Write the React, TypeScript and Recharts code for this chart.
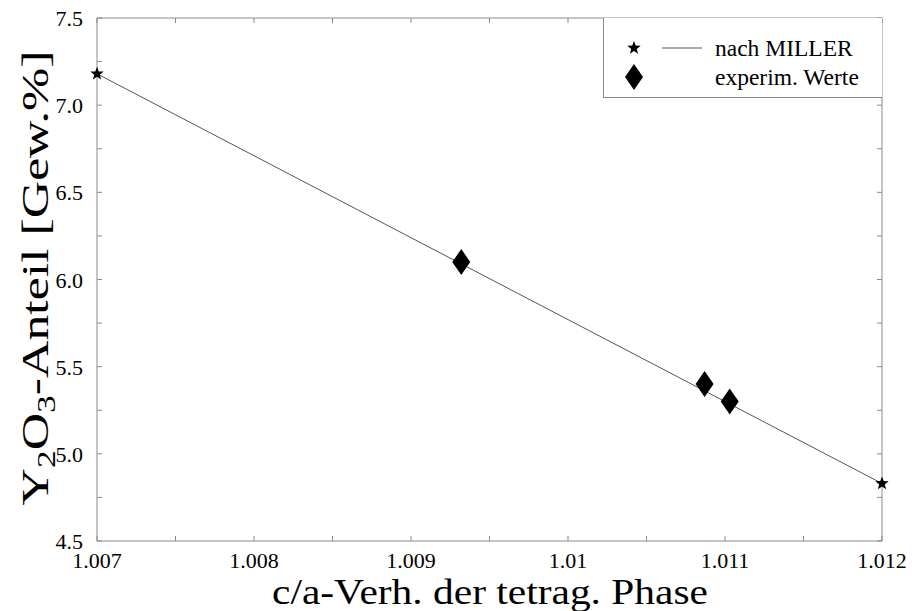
import React from 'react';
import { ScatterChart, Scatter, XAxis, YAxis } from 'recharts';

// Y2O3 content vs. c/a ratio of the tetragonal phase

const millerX = [1.007, 1.012];
const millerY = [7.18, 4.83];

const experimX = [1.00932, 1.01087, 1.01103];
const experimY = [6.1, 5.4, 5.3];

const xTicks = [1.007, 1.0075, 1.008, 1.0085, 1.009, 1.0095, 1.01, 1.0105, 1.011, 1.0115, 1.012];
const xTickLabels = ['1.007', '', '1.008', '', '1.009', '', '1.01', '', '1.011', '', '1.012'];
const yTicks = [4.5, 4.75, 5.0, 5.25, 5.5, 5.75, 6.0, 6.25, 6.5, 6.75, 7.0, 7.25, 7.5];
const yTickLabels = ['4.5', '', '5.0', '', '5.5', '', '6.0', '', '6.5', '', '7.0', '', '7.5'];

const legendLabels = ['nach MILLER', 'experim. Werte'];

const miller = millerX.map((x, i) => ({ x, y: millerY[i] }));
const experim = experimX.map((x, i) => ({ x, y: experimY[i] }));

const FONT = '"Liberation Serif", "Times New Roman", serif';
const AXIS = '#8a8a8a';
const TICK_LEN = 5;

const labelFor = (value: number, ticks: number[], labels: string[]) => {
  const i = ticks.findIndex((t) => Math.abs(t - value) < 1e-7);
  return i >= 0 ? labels[i] : '';
};

const starPoints = (cx: number, cy: number, r: number) => {
  const pts: string[] = [];
  for (let i = 0; i < 10; i++) {
    const rad = i % 2 === 0 ? r : r * 0.42;
    const a = -Math.PI / 2 + (i * Math.PI) / 5;
    pts.push(`${cx + rad * Math.cos(a)},${cy + rad * Math.sin(a)}`);
  }
  return pts.join(' ');
};

const Star = (props: any) => <polygon points={starPoints(props.cx, props.cy, 7)} fill="#000" />;

const Diamond = (props: any) => {
  const { cx, cy } = props;
  return (
    <polygon
      points={`${cx},${cy - 13} ${cx + 9},${cy} ${cx},${cy + 13} ${cx - 9},${cy}`}
      fill="#000"
    />
  );
};

const BottomTick = (props: any) => {
  const { x, y, payload } = props;
  return (
    <g>
      <line x1={x} y1={y} x2={x} y2={y - TICK_LEN} stroke={AXIS} />
      <text x={x} y={y + 27} textAnchor="middle" fontFamily={FONT} fontSize={22} fill="#000">
        {labelFor(payload.value, xTicks, xTickLabels)}
      </text>
    </g>
  );
};

const TopTick = (props: any) => {
  const { x, y } = props;
  return <line x1={x} y1={y} x2={x} y2={y + TICK_LEN} stroke={AXIS} />;
};

const LeftTick = (props: any) => {
  const { x, y, payload } = props;
  return (
    <g>
      <line x1={x} y1={y} x2={x + TICK_LEN} y2={y} stroke={AXIS} />
      <text x={x - 14} y={y + 8} textAnchor="end" fontFamily={FONT} fontSize={22} fill="#000">
        {labelFor(payload.value, yTicks, yTickLabels)}
      </text>
    </g>
  );
};

const RightTick = (props: any) => {
  const { x, y } = props;
  return <line x1={x} y1={y} x2={x - TICK_LEN} y2={y} stroke={AXIS} />;
};

const XTitle = () => (
  <text
    x={490}
    y={604}
    textAnchor="middle"
    fontFamily={FONT}
    fontSize={35}
    fill="#000"
    textLength={436}
    lengthAdjust="spacingAndGlyphs"
  >
    c/a-Verh. der tetrag. Phase
  </text>
);

const YTitle = () => (
  <text
    x={48}
    y={278}
    transform="rotate(-90 48 278)"
    textAnchor="middle"
    fontFamily={FONT}
    fontSize={38}
    fill="#000"
    textLength={455}
    lengthAdjust="spacingAndGlyphs"
  >
    Y<tspan fontSize={26} dy={7}>2</tspan>
    <tspan dy={-7}>O</tspan>
    <tspan fontSize={26} dy={7}>3</tspan>
    <tspan dy={-7}>-Anteil [Gew.%]</tspan>
  </text>
);

export default function App() {
  return (
    <div style={{ position: 'absolute', left: 0, top: 0, width: 912, height: 611, background: '#fff' }}>
      <ScatterChart width={912} height={611} margin={{ top: 17, right: 29, bottom: 0, left: 0 }}>
        <XAxis
          xAxisId={0}
          type="number"
          dataKey="x"
          domain={[1.007, 1.012]}
          ticks={xTicks}
          interval={0}
          height={70}
          stroke={AXIS}
          tickSize={0}
          tickMargin={0}
          tick={<BottomTick />}
          label={<XTitle />}
        />
        <XAxis
          xAxisId="top"
          orientation="top"
          type="number"
          dataKey="x"
          domain={[1.007, 1.012]}
          ticks={xTicks}
          interval={0}
          height={1}
          stroke={AXIS}
          tickSize={0}
          tickMargin={0}
          tick={<TopTick />}
        />
        <YAxis
          yAxisId={0}
          type="number"
          dataKey="y"
          domain={[4.5, 7.5]}
          ticks={yTicks}
          interval={0}
          width={97}
          stroke={AXIS}
          tickSize={0}
          tickMargin={0}
          tick={<LeftTick />}
          label={<YTitle />}
        />
        <YAxis
          yAxisId="right"
          orientation="right"
          type="number"
          dataKey="y"
          domain={[4.5, 7.5]}
          ticks={yTicks}
          interval={0}
          width={1}
          stroke={AXIS}
          tickSize={0}
          tickMargin={0}
          tick={<RightTick />}
        />
        <Scatter
          data={miller}
          line={{ stroke: '#555', strokeWidth: 1 }}
          shape={<Star />}
          isAnimationActive={false}
        />
        <Scatter
          data={experim}
          xAxisId="top"
          yAxisId="right"
          shape={<Diamond />}
          isAnimationActive={false}
        />
      </ScatterChart>
      <div
        style={{
          position: 'absolute',
          left: 603,
          top: 18,
          width: 279,
          height: 80,
          boxSizing: 'border-box',
          borderLeft: `1px solid ${AXIS}`,
          borderBottom: `1px solid ${AXIS}`,
          background: '#fff',
          fontFamily: FONT,
          fontSize: 23.5,
          color: '#000',
        }}
      >
        <div style={{ position: 'absolute', left: 0, top: 17, display: 'flex', alignItems: 'center', height: 26 }}>
          <svg width={111} height={26}>
            <polygon points={starPoints(30, 13, 7)} fill="#000" />
            <line x1={58} y1={13} x2={98} y2={13} stroke="#555" />
          </svg>
          <span>{legendLabels[0]}</span>
        </div>
        <div style={{ position: 'absolute', left: 0, top: 45, display: 'flex', alignItems: 'center', height: 28 }}>
          <svg width={111} height={28}>
            <polygon points="30,1 39,14 30,27 21,14" fill="#000" />
          </svg>
          <span>{legendLabels[1]}</span>
        </div>
      </div>
    </div>
  );
}
